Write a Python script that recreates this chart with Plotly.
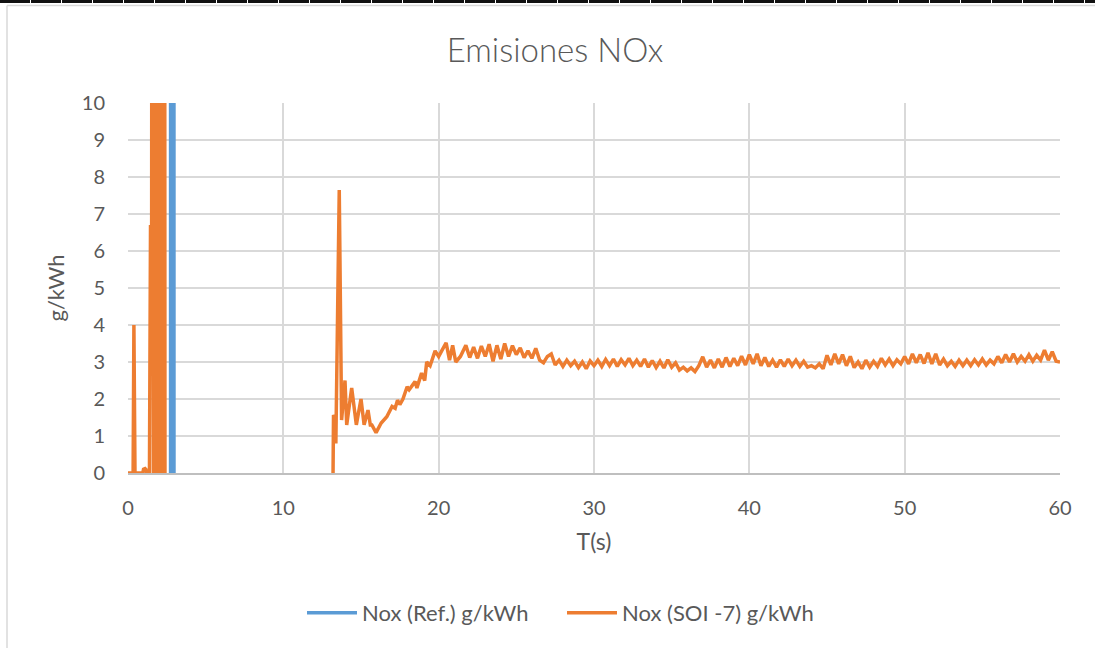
import plotly.graph_objects as go

# ---------------- data ----------------
# Nox (Ref.) g/kWh : only visible as a vertical rise/fall near t≈2.85 s, rest above 10
ref_t = [2.74, 2.75, 2.95, 2.96]
ref_v = [0.0, 60.0, 60.0, 0.0]

# Nox (SOI -7) g/kWh : start-up part (0 .. 2.4 s)
soi_t1 = [0.0, 0.33, 0.38, 0.45, 0.95, 1.0, 1.1, 1.15, 1.2, 1.38, 1.45, 1.52, 1.56,
          1.64, 1.72, 1.80, 1.88, 1.96, 2.04, 2.13, 2.30, 2.33, 2.38]
soi_v1 = [0.0, 0.0, 4.0, 0.0, 0.0, 0.1, 0.12, 0.1, 0.0, 0.0, 6.7, 3.9, 40.0,
          0.0, 40.0, 0.0, 40.0, 0.0, 40.0, 0.0, 0.0, 40.0, 0.0]

# after the gap (13.2 .. 21.75 s)
soi_t2 = [13.20, 13.23, 13.30, 13.38, 13.60, 13.75, 13.97, 14.08, 14.40, 14.70, 15.00,
          15.20, 15.45, 15.60, 15.70, 15.97, 16.30, 16.66, 17.00, 17.20, 17.35, 17.50,
          17.70, 17.97, 18.10, 18.48, 18.60, 18.90, 19.10, 19.23, 19.45, 19.77, 20.00,
          20.20, 20.48, 20.70, 20.90, 21.10, 21.40, 21.75]
soi_v2 = [0.0, 1.57, 1.5, 0.8, 7.65, 1.43, 2.5, 1.3, 2.3, 1.3, 2.0,
          1.3, 1.7, 1.3, 1.3, 1.09, 1.35, 1.52, 1.8, 1.75, 1.97, 1.85,
          2.0, 2.33, 2.25, 2.47, 2.3, 2.7, 2.5, 3.0, 2.9, 3.3, 3.15,
          3.3, 3.52, 3.05, 3.45, 3.0, 3.15, 3.45]

# steady part, sampled every 0.25 s from 22.0 to 60.0 s
soi_v3 = [
    3.12, 3.40, 3.10, 3.43,  3.15, 3.48, 3.02, 3.45,  3.08, 3.50, 3.15, 3.44,
    3.20, 3.38, 3.12, 3.30,  3.10, 3.37, 3.05, 2.98,  3.15, 3.22, 2.92, 3.05,
    2.88, 3.05, 2.90, 3.02,  2.85, 3.00, 2.82, 3.03,  2.90, 3.05, 2.88, 3.07,
    2.90, 3.08, 2.88, 3.06,  2.92, 3.10, 2.90, 3.05,  2.88, 3.08, 2.86, 3.04,
    2.85, 3.02, 2.84, 3.06,  2.86, 2.98, 2.78, 2.86,  2.76, 2.84, 2.74, 2.90,
    3.14, 2.86, 3.05, 2.84,  3.08, 2.86, 3.12, 2.88,  3.10, 2.90, 3.16, 2.92,
    3.20, 2.95, 3.22, 2.90,  3.12, 2.88, 3.05, 2.86,  3.06, 2.88, 3.08, 2.90,
    3.05, 2.88, 3.02, 2.86,  2.90, 2.84, 2.95, 2.82,  3.18, 2.92, 3.22, 2.95,
    3.20, 2.90, 3.15, 2.85,  3.00, 2.82, 3.05, 2.86,  3.02, 2.88, 3.10, 2.92,
    3.08, 2.90, 3.06, 2.95,  3.15, 2.95, 3.22, 2.98,  3.20, 2.96, 3.25, 2.95,
    3.22, 2.92, 3.08, 2.90,  3.02, 2.88, 3.05, 2.90,  3.05, 2.90, 3.06, 2.92,
    3.08, 2.92, 3.05, 2.95,  3.15, 2.98, 3.20, 3.00,  3.22, 3.00, 3.15, 3.02,
    3.20, 3.02, 3.18, 3.05,  3.32, 3.05, 3.28, 3.02,  3.00,
]
soi_t3 = [round(22.0 + 0.25 * i, 2) for i in range(len(soi_v3))]

x_ticks = [0, 10, 20, 30, 40, 50, 60]
y_ticks = list(range(0, 11))

# ---------------- layout geometry ----------------
W, H = 1095, 648
ML, MR, MT, MB = 128, 35, 103, 175
PW, PH = W - ML - MR, H - MT - MB


def px_x(p):
    return (p - ML) / PW


def px_y(p):
    return (H - MB - p) / PH


ORANGE = "#ED7D31"
BLUE = "#5B9BD5"
GRID = "#d9d9d9"
TXT = "#595959"
FONT = "Lato, 'Open Sans', sans-serif"

soi_t = soi_t1 + [None] + soi_t2 + soi_t3
soi_v = soi_v1 + [None] + soi_v2 + soi_v3

fig = go.Figure()
fig.add_trace(go.Scatter(x=ref_t, y=ref_v, mode="lines", name="Nox (Ref.) g/kWh",
                         line=dict(color=BLUE, width=3.5)))
fig.add_trace(go.Scatter(x=soi_t, y=soi_v, mode="lines", name="Nox (SOI -7) g/kWh",
                         line=dict(color=ORANGE, width=3.5), connectgaps=False))

shapes = [
    # black dashed rule at the very top of the page
    dict(type="line", xref="paper", yref="paper", x0=px_x(0), x1=px_x(W),
         y0=px_y(1.5), y1=px_y(1.5), line=dict(color="#111111", width=3, dash="30px,1px")),
    # chart-area border (top and left)
    dict(type="line", xref="paper", yref="paper", x0=px_x(7), x1=px_x(W + 5),
         y0=px_y(5.5), y1=px_y(5.5), line=dict(color=GRID, width=1.5)),
    dict(type="line", xref="paper", yref="paper", x0=px_x(7), x1=px_x(7),
         y0=px_y(5.5), y1=px_y(H + 5), line=dict(color=GRID, width=1.5)),
]

fig.update_layout(
    width=W, height=H,
    margin=dict(l=ML, r=MR, t=MT, b=MB, autoexpand=False),
    paper_bgcolor="white", plot_bgcolor="white",
    font=dict(family=FONT, color=TXT, size=20),
    title=dict(text="Emisiones NOx", x=555 / W, xanchor="center", xref="container",
               y=1 - 50 / H, yanchor="middle", yref="container",
               font=dict(family=FONT, size=33, color=TXT, weight=300)),
    showlegend=True,
    legend=dict(orientation="h", x=px_x(562), xanchor="center", y=px_y(613),
                yanchor="middle", font=dict(size=22, color=TXT), itemwidth=50,
                entrywidth=195, bgcolor="rgba(0,0,0,0)"),
    shapes=shapes,
)

fig.update_xaxes(range=[0, 60], tickvals=x_ticks, showgrid=True, gridcolor=GRID, gridwidth=1.5,
                 zeroline=False, showline=True, linecolor="#bfbfbf", linewidth=1.5,
                 ticks="", ticklabelstandoff=16, tickfont=dict(size=20, color=TXT),
                 title=dict(text="T(s)", font=dict(size=23, color=TXT), standoff=16),
                 fixedrange=True)
fig.update_yaxes(range=[0, 10], tickvals=y_ticks, showgrid=True, gridcolor=GRID, gridwidth=1.5,
                 zeroline=False, showline=False, ticks="", ticklabelstandoff=22,
                 tickfont=dict(size=20, color=TXT),
                 title=dict(text="g/kWh", font=dict(size=22, color=TXT), standoff=11),
                 fixedrange=True)

fig.write_html("out.html", config=dict(displayModeBar=False))
